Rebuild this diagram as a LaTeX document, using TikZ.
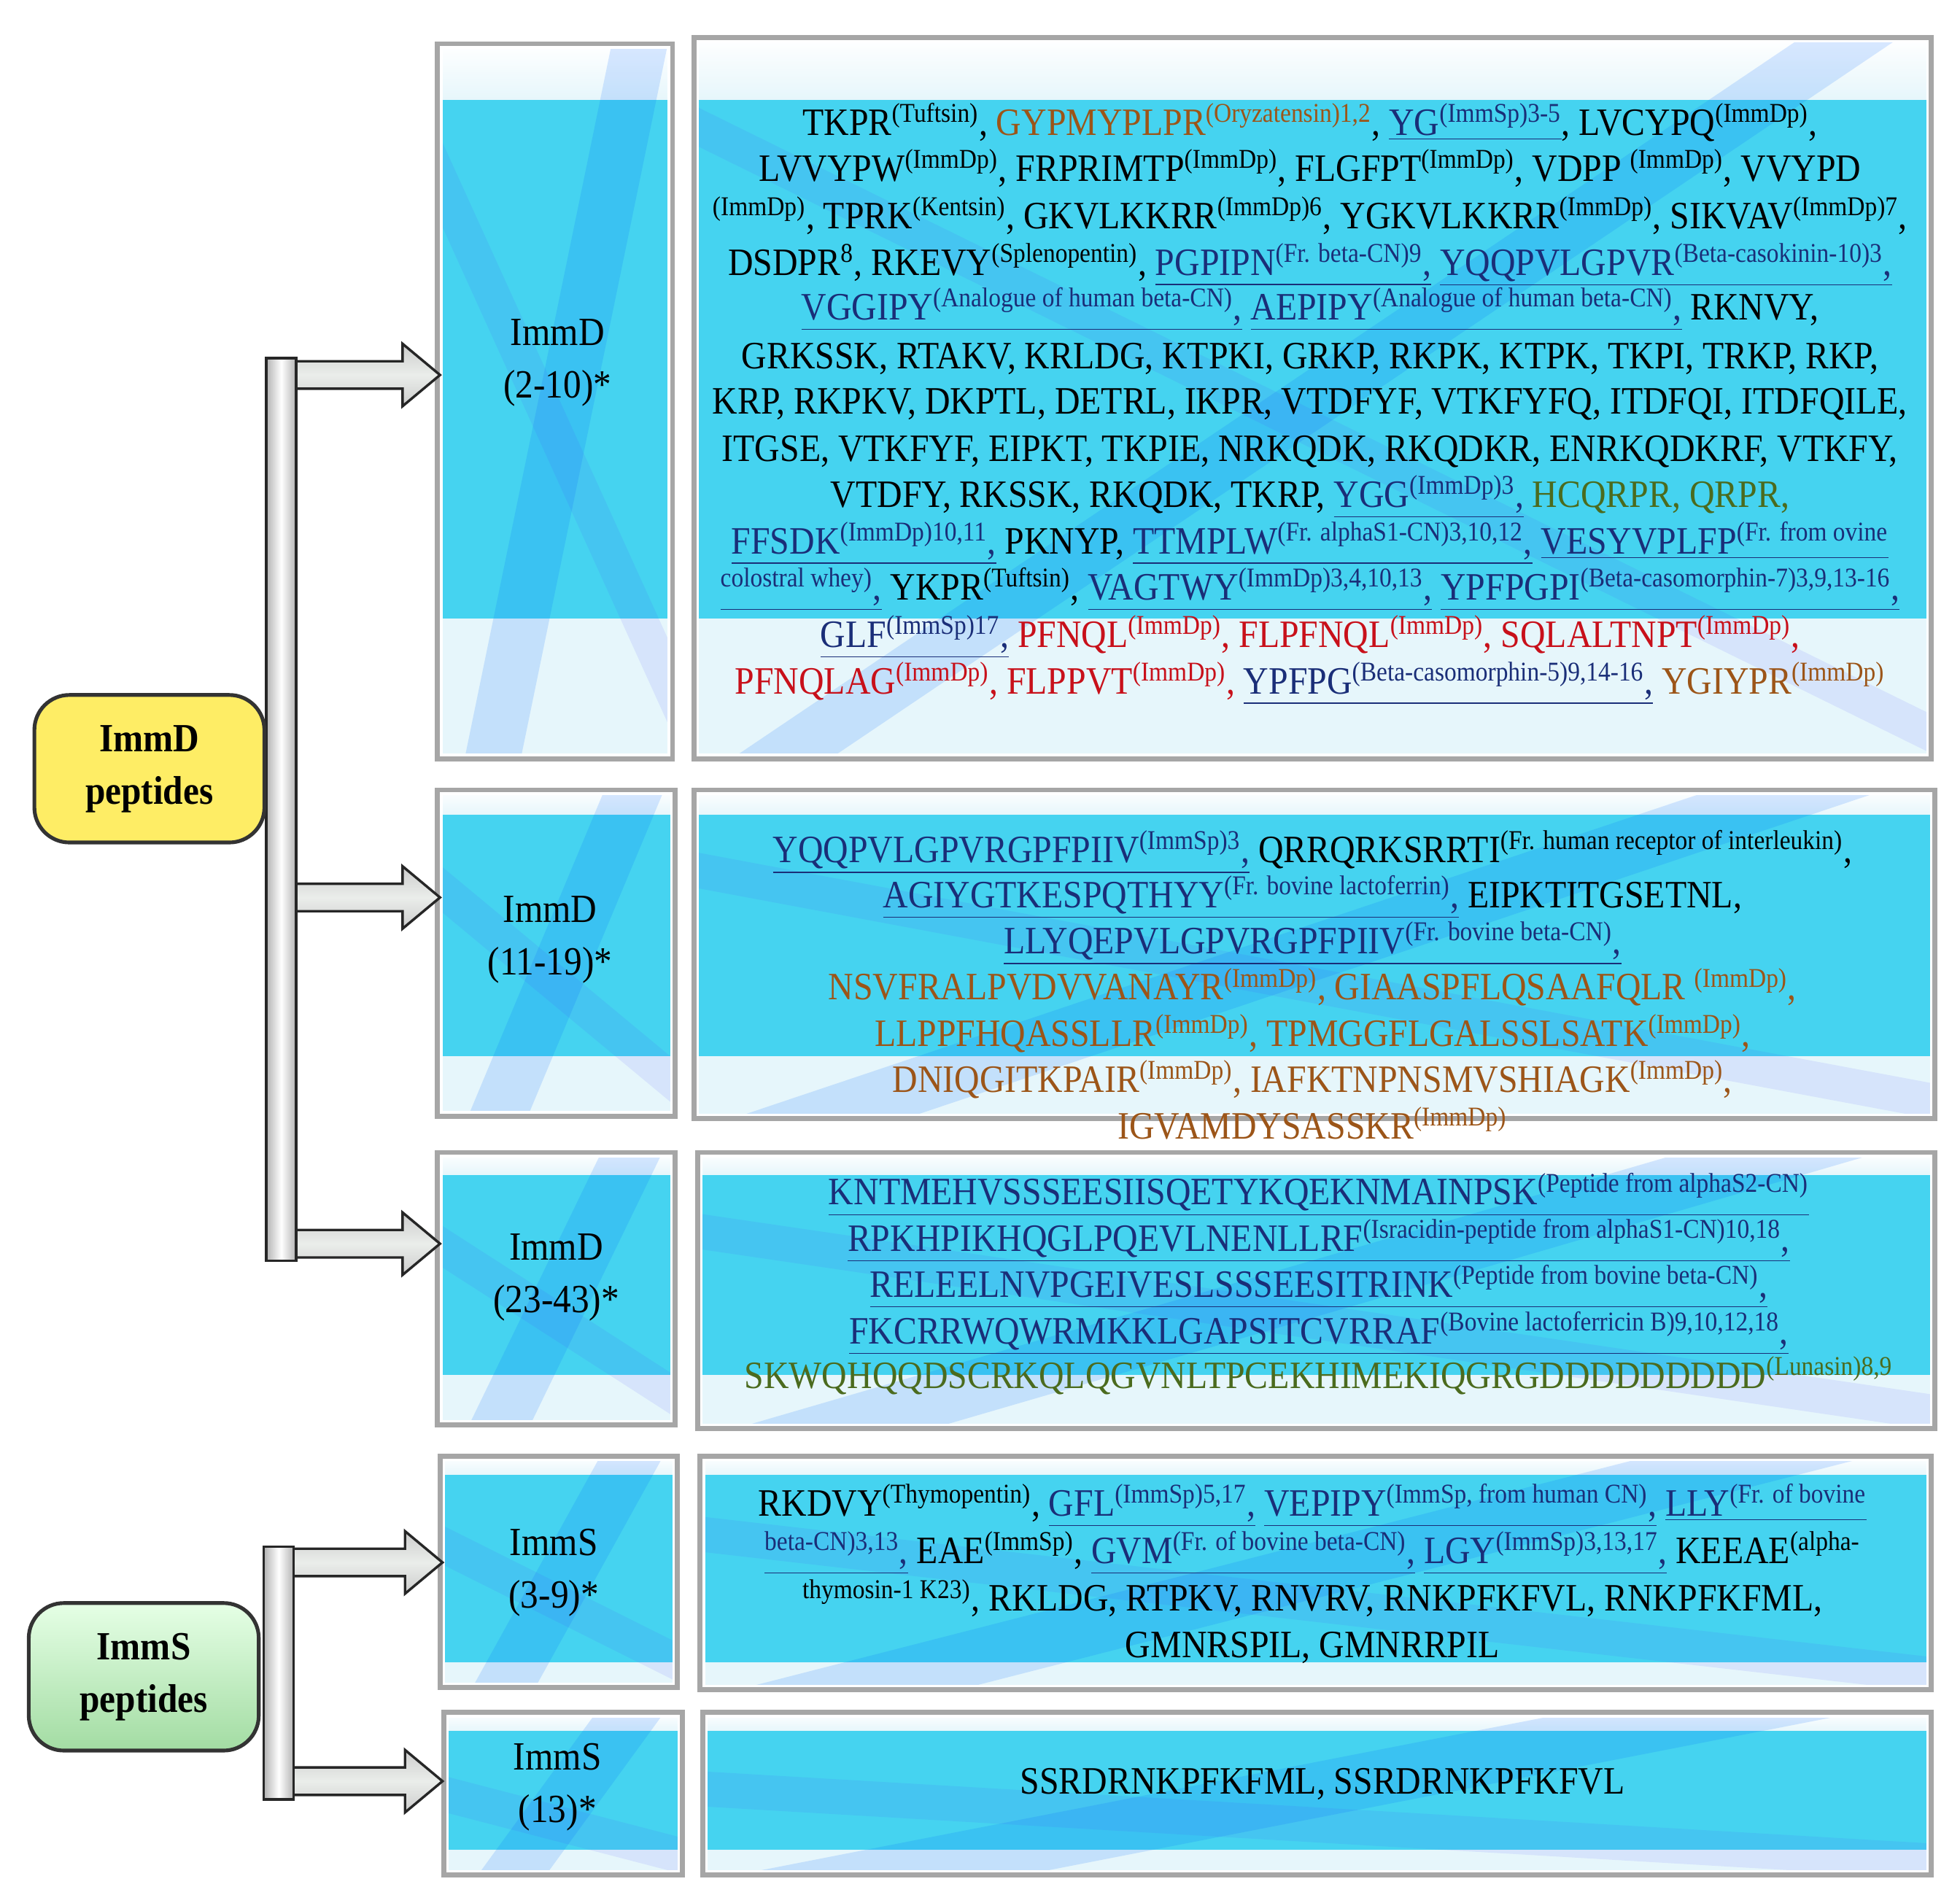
\documentclass[tikz,border=0pt]{standalone}
\usepackage{fontspec}
\setmainfont{Liberation Serif}[FakeStretch=0.90]
\definecolor{dblue}{HTML}{1A2E78}
\definecolor{brn}{HTML}{9C5518}
\definecolor{grn}{HTML}{4B6B1E}
\definecolor{rd}{HTML}{C8101A}
\definecolor{cy}{HTML}{45D3F0}
\definecolor{cyl}{HTML}{E6F6FB}
\newcommand\su[1]{\textsuperscript{#1}}
\newcommand\bu[1]{\textcolor{dblue}{$\underline{\hbox{#1}}$}}
\newcommand\br[1]{\textcolor{brn}{#1}}
\newcommand\gr[1]{\textcolor{grn}{#1}}
\newcommand\rr[1]{\textcolor{rd}{#1}}
% panel: x1 y1 x2 y2 bandtop bandbottom
\newcommand\panel[6]{%
  \fill[cyl] (#1,#2) rectangle (#3,#4);
  \fill[top color=white,bottom color=cyl] (#1,#2) rectangle (#3,#5);
  \fill[cy] (#1,#5) rectangle (#3,#6);
  \begin{scope}
    \clip (#1,#2) rectangle (#3,#4);
    \draw[blue!60!cyan,opacity=0.15,line width=22pt] (#1+40,#4+20) -- (#3-20,#2-30);
    \draw[blue!70,opacity=0.10,line width=14pt] (#1-20,#2+60) -- (#3+20,#4-10);
  \end{scope}
  \draw[gray!70,line width=2pt] (#1,#2) rectangle (#3,#4);
  \draw[white,line width=1pt] (#1+3,#2+3) rectangle (#3-3,#4-3);
}
\tikzset{
  tl/.style={font=\fontsize{15.5}{18}\selectfont,inner sep=0pt,anchor=base},
  lab/.style={font=\fontsize{16}{21}\selectfont,align=center,inner sep=0pt},
  cat/.style={rounded corners=14pt,draw=gray!40!black,line width=1.5pt,font=\bfseries\fontsize{16}{21}\selectfont,align=center,minimum width=92pt,minimum height=59pt},
  barsty/.style={left color=gray!60,right color=gray!60,middle color=white,draw=gray!30!black,line width=1pt},
  arr/.style={top color=gray!40,bottom color=gray!40,middle color=green!8!gray!15,draw=gray!30!black,line width=1pt}
}
\begin{document}
\begin{tikzpicture}[x=0.5pt,y=-0.5pt]
\useasboundingbox (0,0) rectangle (1568,1522);
\fill[white] (0,0) rectangle (1568,1522);
% label panels
\panel{350}{35}{538}{607}{80}{495}
\panel{350}{632}{540}{893}{652}{845}
\panel{350}{922}{540}{1140}{940}{1100}
\panel{352}{1165}{542}{1350}{1180}{1330}
\panel{355}{1370}{546}{1500}{1385}{1480}
% content panels
\panel{555}{30}{1545}{607}{80}{495}
\panel{555}{632}{1548}{895}{652}{845}
\panel{558}{922}{1548}{1143}{940}{1100}
\panel{560}{1165}{1545}{1352}{1180}{1330}
\panel{562}{1370}{1545}{1500}{1385}{1480}
% bars and arrows
\foreach \yy in {300,718,995}{\draw[arr] (236,\yy-11) -- (322,\yy-11) -- (322,\yy-25) -- (352,\yy) -- (322,\yy+25) -- (322,\yy+11) -- (236,\yy+11) -- cycle;}
\foreach \yy in {1250,1425}{\draw[arr] (234,\yy-11) -- (324,\yy-11) -- (324,\yy-25) -- (354,\yy) -- (324,\yy+25) -- (324,\yy+11) -- (234,\yy+11) -- cycle;}
\node[barsty,minimum width=12pt,minimum height=361pt,inner sep=0pt] (bar1) at (225,647.5) {};
\node[barsty,minimum width=12pt,minimum height=101pt,inner sep=0pt] (bar2) at (223,1338.5) {};
\node[cat,fill=yellow!85!orange!60] (immd) at (119.5,615) {ImmD\\peptides};
\node[cat,top color=green!10!white,bottom color=green!45!gray!50] (imms) at (115,1341.5) {ImmS\\peptides};
% labels
\node[lab] (l1) at (446,290) {ImmD\\(2-10)*};
\node[lab] (l2) at (440,752) {ImmD\\(11-19)*};
\node[lab] (l3) at (445,1022) {ImmD\\(23-43)*};
\node[lab] (l4) at (443,1258) {ImmS\\(3-9)*};
\node[lab] (l5) at (446,1430) {ImmS\\(13)*};
% box 1
\node[tl] (a1) at (1048,108) {TKPR\su{(Tuftsin)}, \br{GYPMYPLPR\su{(Oryzatensin)1,2}}, \bu{YG\su{(ImmSp)3-5}}, LVCYPQ\su{(ImmDp)},};
\node[tl] (a2) at (1048,145) {LVVYPW\su{(ImmDp)}, FRPRIMTP\su{(ImmDp)}, FLGFPT\su{(ImmDp)}, VDPP \su{(ImmDp)}, VVYPD};
\node[tl] (a3) at (1048,183) {\su{(ImmDp)}, TPRK\su{(Kentsin)}, GKVLKKRR\su{(ImmDp)6}, YGKVLKKRR\su{(ImmDp)}, SIKVAV\su{(ImmDp)7},};
\node[tl] (a4) at (1048,220) {DSDPR\su{8}, RKEVY\su{(Splenopentin)}, \bu{PGPIPN\su{(Fr. beta-CN)9},} \bu{YQQPVLGPVR\su{(Beta-casokinin-10)3},}};
\node[tl] (a5) at (1048,256) {\bu{VGGIPY\su{(Analogue of human beta-CN)},} \bu{AEPIPY\su{(Analogue of human beta-CN)},} RKNVY,};
\node[tl] (a6) at (1048,295) {GRKSSK, RTAKV, KRLDG, KTPKI, GRKP, RKPK, KTPK, TKPI, TRKP, RKP,};
\node[tl] (a7) at (1048,331) {KRP, RKPKV, DKPTL, DETRL, IKPR, VTDFYF, VTKFYFQ, ITDFQI, ITDFQILE,};
\node[tl] (a8) at (1048,369) {ITGSE, VTKFYF, EIPKT, TKPIE, NRKQDK, RKQDKR, ENRKQDKRF, VTKFY,};
\node[tl] (a9) at (1048,406) {VTDFY, RKSSK, RKQDK, TKRP, \bu{YGG\su{(ImmDp)3},} \gr{HCQRPR, QRPR,}};
\node[tl] (a10) at (1048,443) {\bu{FFSDK\su{(ImmDp)10,11},} PKNYP, \bu{TTMPLW\su{(Fr. alphaS1-CN)3,10,12},} \bu{VESYVPLFP\su{(Fr. from ovine}}};
\node[tl] (a11) at (1048,480) {\bu{\su{colostral whey)},} YKPR\su{(Tuftsin)}, \bu{VAGTWY\su{(ImmDp)3,4,10,13},} \bu{YPFPGPI\su{(Beta-casomorphin-7)3,9,13-16},}};
\node[tl] (a12) at (1048,518) {\bu{GLF\su{(ImmSp)17},} \rr{PFNQL\su{(ImmDp)}, FLPFNQL\su{(ImmDp)}, SQLALTNPT\su{(ImmDp)},}};
\node[tl] (a13) at (1048,555) {\rr{PFNQLAG\su{(ImmDp)}, FLPPVT\su{(ImmDp)},} \bu{YPFPG\su{(Beta-casomorphin-5)9,14-16},} \br{YGIYPR\su{(ImmDp)}}};
% box 2
\node[tl] (b1) at (1050,690) {\bu{YQQPVLGPVRGPFPIIV\su{(ImmSp)3},} QRRQRKSRRTI\su{(Fr. human receptor of interleukin)},};
\node[tl] (b2) at (1050,726) {\bu{AGIYGTKESPQTHYY\su{(Fr. bovine lactoferrin)},} EIPKTITGSETNL,};
\node[tl] (b3) at (1050,763) {\bu{LLYQEPVLGPVRGPFPIIV\su{(Fr. bovine beta-CN)},}};
\node[tl] (b4) at (1050,800) {\br{NSVFRALPVDVVANAYR\su{(ImmDp)}, GIAASPFLQSAAFQLR \su{(ImmDp)},}};
\node[tl] (b5) at (1050,837) {\br{LLPPFHQASSLLR\su{(ImmDp)}, TPMGGFLGALSSLSATK\su{(ImmDp)},}};
\node[tl] (b6) at (1050,874) {\br{DNIQGITKPAIR\su{(ImmDp)}, IAFKTNPNSMVSHIAGK\su{(ImmDp)},}};
\node[tl] (b7) at (1050,911) {\br{IGVAMDYSASSKR\su{(ImmDp)}}};
% box 3
\node[tl] (c1) at (1055,964) {\bu{KNTMEHVSSSEESIISQETYKQEKNMAINPSK\su{(Peptide from alphaS2-CN)}}};
\node[tl] (c2) at (1055,1001) {\bu{RPKHPIKHQGLPQEVLNENLLRF\su{(Isracidin-peptide from alphaS1-CN)10,18},}};
\node[tl] (c3) at (1055,1038) {\bu{RELEELNVPGEIVESLSSSEESITRINK\su{(Peptide from bovine beta-CN)},}};
\node[tl] (c4) at (1055,1075) {\bu{FKCRRWQWRMKKLGAPSITCVRRAF\su{(Bovine lactoferricin B)9,10,12,18},}};
\node[tl] (c5) at (1055,1111) {\gr{SKWQHQQDSCRKQLQGVNLTPCEKHIMEKIQGRGDDDDDDDDD\su{(Lunasin)8,9}}};
% box 4
\node[tl] (d1) at (1050,1213) {RKDVY\su{(Thymopentin)}, \bu{GFL\su{(ImmSp)5,17},} \bu{VEPIPY\su{(ImmSp, from human CN)},} \bu{LLY\su{(Fr. of bovine}}};
\node[tl] (d2) at (1050,1251) {\bu{\su{beta-CN)3,13},} EAE\su{(ImmSp)}, \bu{GVM\su{(Fr. of bovine beta-CN)},} \bu{LGY\su{(ImmSp)3,13,17},} KEEAE\su{(alpha-}};
\node[tl] (d3) at (1050,1289) {\su{thymosin-1 K23)}, RKLDG, RTPKV, RNVRV, RNKPFKFVL, RNKPFKFML,};
\node[tl] (d4) at (1050,1326) {GMNRSPIL, GMNRRPIL};
% box 5
\node[tl] (e1) at (1058,1435) {SSRDRNKPFKFML, SSRDRNKPFKFVL};
\end{tikzpicture}
\end{document}
